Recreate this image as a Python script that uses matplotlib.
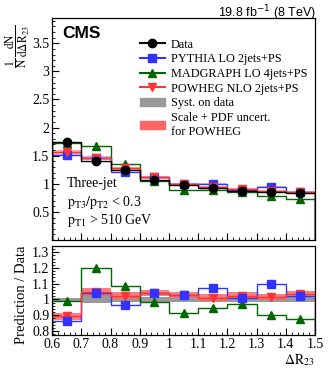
import numpy as np
import matplotlib.pyplot as plt
from matplotlib.lines import Line2D
from matplotlib.patches import Patch

plt.rcParams['font.family'] = ['Liberation Serif', 'DejaVu Serif']
plt.rcParams['mathtext.fontset'] = 'stix'

# bins in dR23
edges = [0.6, 0.7, 0.8, 0.9, 1.0, 1.1, 1.2, 1.3, 1.4, 1.5]

# normalised distribution (top panel)
data = [1.75, 1.40, 1.245, 1.07, 0.97, 0.93, 0.88, 0.86, 0.83]
data_err = [0.02, 0.02, 0.015, 0.012, 0.012, 0.012, 0.012, 0.012, 0.012]
pythia = [1.51, 1.456, 1.203, 1.113, 0.999, 0.995, 0.887, 0.946, 0.851]
madgraph = [1.733, 1.68, 1.353, 1.054, 0.889, 0.881, 0.854, 0.777, 0.725]
powheg = [1.561, 1.464, 1.276, 1.113, 0.999, 0.939, 0.902, 0.873, 0.86]

# ratio panel
r_pythia = [0.863, 1.04, 0.966, 1.04, 1.03, 1.07, 1.008, 1.10, 1.025]
r_pythia_err = [0.012, 0.015, 0.012, 0.015, 0.015, 0.02, 0.015, 0.02, 0.015]
r_madgraph = [0.99, 1.20, 1.087, 0.985, 0.916, 0.947, 0.97, 0.903, 0.873]
r_powheg = [0.892, 1.046, 1.025, 1.04, 1.03, 1.01, 1.025, 1.015, 1.036]
powheg_unc = [0.023, 0.025, 0.022, 0.02, 0.02, 0.022, 0.02, 0.02, 0.02]
syst_lo = [0.985, 0.975, 0.985, 0.985, 0.985, 0.985, 0.985, 0.985, 0.985]
syst_hi = [1.01, 1.035, 1.015, 1.015, 1.015, 1.015, 1.015, 1.015, 1.015]

edges = np.array(edges)
centers = (edges[:-1] + edges[1:]) / 2

blue = '#3333ff'
green = '#006600'
red = '#ff3333'
band_red = '#ff6666'

fig = plt.figure(figsize=(3.32, 3.75), dpi=100)
ax = fig.add_axes([0.157, 0.36, 0.792, 0.592])
axr = fig.add_axes([0.157, 0.107, 0.792, 0.237])


def style(a):
    a.tick_params(which='both', direction='in', top=False, right=False, labelsize=10, pad=2)
    a.tick_params(which='major', length=5)
    a.tick_params(which='minor', length=2.5)
    for s in a.spines.values():
        s.set_linewidth(0.9)


# top panel
pw = np.array(powheg)
pu = np.array(powheg_unc)
ax.stairs(pw * (1 + pu), edges, baseline=pw * (1 - pu), fill=True, color=band_red, alpha=0.6, lw=0)
ax.stairs(np.array(pythia) * 1.012, edges, baseline=np.array(pythia) * 0.988, fill=True,
          color='#9999ff', alpha=0.6, lw=0)
ax.stairs(pythia, edges, color=blue, lw=1.0)
ax.stairs(madgraph, edges, color=green, lw=1.0)
ax.stairs(powheg, edges, color=red, lw=1.0)
ax.stairs(data, edges, color='black', lw=1.0)
ax.plot(centers, pythia, 's', color=blue, ms=5.5)
ax.plot(centers, madgraph, '^', color=green, ms=5.5)
ax.plot(centers, powheg, 'v', color=red, ms=5.5)
ax.errorbar(centers, data, yerr=data_err, fmt='o', color='black', ms=6, lw=1)

ax.set_xlim(0.6, 1.5)
ax.set_ylim(0, 3.95)
ax.set_yticks([0.5, 1, 1.5, 2, 2.5, 3, 3.5])
ax.set_yticklabels(['0.5', '1', '1.5', '2', '2.5', '3', '3.5'])
ax.set_yticks(np.arange(0, 3.95, 0.1), minor=True)
ax.set_xticks(np.arange(0.6, 1.501, 0.1))
ax.set_xticks(np.arange(0.6, 1.501, 0.02), minor=True)
ax.set_xticklabels([])
style(ax)

ax.text(0.04, 0.965, 'CMS', transform=ax.transAxes, fontsize=12.5, fontweight='bold',
        family='Liberation Sans', va='top', ha='left')
ax.text(0.055, 0.255, 'Three-jet', transform=ax.transAxes, fontsize=10, va='center')
ax.text(0.055, 0.17, r'$\mathrm{p_{T3}/p_{T2}}$ < 0.3', transform=ax.transAxes, fontsize=10, va='center')
ax.text(0.055, 0.09, r'$\mathrm{p_{T1}}$ > 510 GeV', transform=ax.transAxes, fontsize=10, va='center')

handles = [
    Line2D([], [], color='black', marker='o', ms=6),
    Line2D([], [], color=blue, marker='s', ms=5.5),
    Line2D([], [], color=green, marker='^', ms=5.5),
    Line2D([], [], color=red, marker='v', ms=5.5),
    Patch(color='#999999'),
    Patch(color=band_red),
]
labels = ['Data', 'PYTHIA LO 2jets+PS', 'MADGRAPH LO 4jets+PS', 'POWHEG NLO 2jets+PS',
          'Syst. on data', 'Scale + PDF uncert.\nfor POWHEG']
ax.legend(handles, labels, loc='upper left', bbox_to_anchor=(0.335, 0.907), frameon=False,
          fontsize=8.8, handlelength=2.0, handletextpad=0.5, labelspacing=0.22,
          borderpad=0, borderaxespad=0)

fig.text(0.952, 0.955, r'19.8 fb$^{\mathsf{-1}}$ (8 TeV)', ha='right', va='baseline',
         fontsize=9, family='Liberation Sans', math_fontfamily='dejavusans')
fig.text(0.008, 0.935, r'$\dfrac{1}{\mathrm{N}}\,\dfrac{\mathrm{dN}}{\mathrm{d}\Delta\mathrm{R}_{23}}$',
         rotation=90, ha='left', va='top', fontsize=8.3)

# ratio panel
axr.stairs(syst_hi, edges, baseline=syst_lo, fill=True, color='#999999', lw=0)
rp = np.array(r_powheg)
axr.stairs(rp + pu, edges, baseline=rp - pu, fill=True, color=band_red, alpha=0.85, lw=0)
axr.stairs(r_pythia, edges, color=blue, lw=1.0)
axr.stairs(r_madgraph, edges, color=green, lw=1.0)
axr.stairs(r_powheg, edges, color=red, lw=1.0)
axr.errorbar(centers, r_pythia, yerr=r_pythia_err, fmt='s', color=blue, ms=5.5, lw=1)
axr.plot(centers, r_madgraph, '^', color=green, ms=5.5)
axr.plot(centers, r_powheg, 'v', color=red, ms=5.5)

axr.set_xlim(0.6, 1.5)
axr.set_ylim(0.775, 1.34)
axr.set_yticks([0.8, 0.9, 1.0, 1.1, 1.2, 1.3])
axr.set_yticklabels(['0.8', '0.9', '1', '1.1', '1.2', '1.3'])
axr.set_yticks(np.arange(0.78, 1.34, 0.02), minor=True)
axr.set_xticks(np.arange(0.6, 1.501, 0.1))
axr.set_xticklabels(['0.6', '0.7', '0.8', '0.9', '1', '1.1', '1.2', '1.3', '1.4', '1.5'])
axr.set_xticks(np.arange(0.6, 1.501, 0.02), minor=True)
style(axr)
axr.set_ylabel('Prediction / Data', fontsize=10.5, loc='top', labelpad=3)
axr.set_xlabel(r'$\Delta\mathrm{R}_{23}$', fontsize=10, loc='right', labelpad=1)

fig.savefig('out.png', dpi=100)
